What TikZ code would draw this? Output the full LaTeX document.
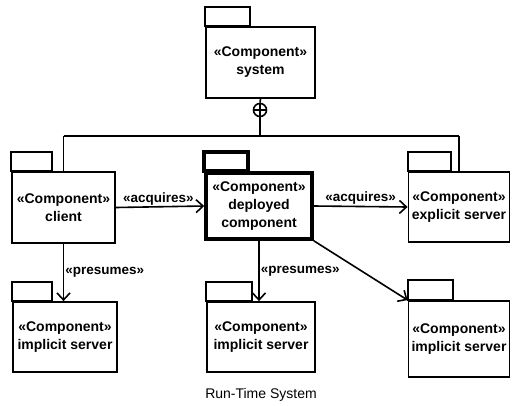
\documentclass[tikz,border=0pt]{standalone}
\usepackage{fontspec}
\setmainfont{Liberation Sans}
\usetikzlibrary{arrows.meta}
\tikzset{
  comp/.style={draw, line width=1.8pt, rectangle, inner sep=0pt, align=center,
    font=\fontsize{14}{18}\selectfont\bfseries},
  tab/.style={draw, line width=1.8pt},
  link/.style={line width=1.6pt},
  dep/.style={link, -{Straight Barb[length=7pt,width=13pt,line width=1.6pt]}},
  stereo/.style={font=\fontsize{13.5}{16}\selectfont\bfseries, inner sep=1pt},
}
\begin{document}
\begin{tikzpicture}[x=1pt,y=-1pt]
\useasboundingbox (0,0) rectangle (512,405);

% component bodies
\node[comp, minimum width=109pt, minimum height=71pt] (sys) at (260.5,62.5) {«Component»\\system};
\node[comp, minimum width=103pt, minimum height=71pt] (client) at (63.5,207.5) {«Component»\\client};
\node[comp, line width=3.6pt, minimum width=106pt, minimum height=66pt] (dep) at (259,206) {«Component»\\deployed\\component};
\node[comp, minimum width=101pt, minimum height=70pt] (expl) at (459,207) {«Component»\\explicit server};
\node[comp, minimum width=104pt, minimum height=70pt] (imp1) at (65,337) {«Component»\\implicit server};
\node[comp, minimum width=108pt, minimum height=70pt] (imp2) at (261,337) {«Component»\\implicit server};
\node[comp, minimum width=101pt, minimum height=76pt] (imp3) at (459,339) {«Component»\\implicit server};

% tabs on top of each component
\draw[tab] (sys.north west) rectangle ++(45,-19);
\draw[tab] (client.north west) rectangle ++(41,-19);
\draw[tab, line width=3.6pt] (dep.north west) rectangle ++(44,-19);
\draw[tab] (expl.north west) rectangle ++(43,-19);
\draw[tab] (imp1.north west) rectangle ++(40,-19);
\draw[tab] (imp2.north west) rectangle ++(46,-19);
\draw[tab] (imp3.north west) rectangle ++(45,-20);

% nesting connector
\node[draw, circle, line width=1.6pt, minimum size=13pt, inner sep=0pt] (nest) at (260,110) {};
\draw[line width=1.6pt] (nest.north) -- (nest.south) (nest.west) -- (nest.east);
\coordinate (bus) at (260,136);
\coordinate (busL) at (client.north |- bus);
\coordinate (busR) at (expl.north |- bus);
\draw[link] (sys.south) -- (nest.north);
\draw[link] (nest.south) -- (bus);
\draw[link] (busL) -- (busR);
\draw[link] (busL) -- (client.north);
\draw[link] (busR) -- (expl.north);

% dependencies
\draw[dep] (client.east) -- node[stereo, above, pos=0.48] {«acquires»} (dep.west);
\draw[dep] (dep.east) -- node[stereo, above, pos=0.5] {«acquires»} (expl.west);
\draw[dep] (client.south) -- node[stereo, right, pos=0.5] {«presumes»} (client.south |- imp1.north);
\draw[dep] (dep.south) -- node[stereo, right, pos=0.5] {«presumes»} (dep.south |- imp2.north);
\draw[dep] (dep.south east) -- (imp3.north west);

\node[font=\fontsize{14}{16}\selectfont] (caption) at (261,395) {Run-Time System};
\end{tikzpicture}
\end{document}
